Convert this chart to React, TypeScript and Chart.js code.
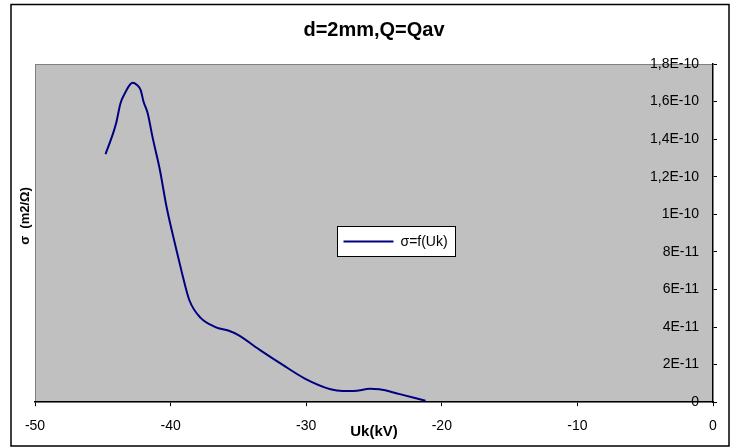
import React, { useEffect, useRef } from "react";
import { Chart, registerables } from "chart.js";

Chart.register(...registerables);

const chartTitle = "d=2mm,Q=Qav";
const xAxisTitle = "Uk(kV)";
const yAxisTitle = "σ  (m2/Ω)";
const seriesLabel = "σ=f(Uk)";

const ukValues = [
  -44.8, -44.2, -44.0, -43.7, -43.4, -43.1, -42.8, -42.5, -42.2, -42.0, -41.7,
  -41.3, -40.8, -40.3, -39.8, -39.4, -39.1, -38.6, -37.8, -36.7, -35.7, -35.0,
  -33.4, -31.7, -30.1, -28.2, -27.3, -26.5, -25.3, -24.6, -23.1, -21.2,
];
const sigmaValues = [
  1.32e-10, 1.44e-10, 1.49e-10, 1.59e-10, 1.64e-10, 1.68e-10, 1.70e-10, 1.69e-10,
  1.66e-10, 1.60e-10, 1.54e-10, 1.40e-10, 1.24e-10, 1.04e-10, 8.8e-11, 7.6e-11,
  6.7e-11, 5.4e-11, 4.5e-11, 4.0e-11, 3.8e-11, 3.57e-11, 2.77e-11, 1.97e-11,
  1.26e-11, 6.9e-12, 6.0e-12, 6.0e-12, 7.1e-12, 6.9e-12, 4.3e-12, 8e-13,
];

const xMin = -50;
const xMax = 0;
const xStep = 10;
const yMin = 0;
const yMax = 1.8e-10;
const yStep = 2e-11;

const FONT = "'Liberation Sans', Arial, sans-serif";
const LINE_COLOR = "#000080";

function formatSci(v: number): string {
  if (Math.abs(v) < 1e-20) return "0";
  const s = v.toExponential(1);
  const [mant, exp] = s.split("e");
  const m = mant.replace(/\.0$/, "").replace(".", ",");
  const e = parseInt(exp, 10);
  return m + "E" + (e < 0 ? "-" + Math.abs(e) : "+" + e);
}

const backgroundPlugin = {
  id: "plotBackground",
  beforeDraw(chart: any) {
    const { ctx, chartArea } = chart;
    const { left, top, right, bottom } = chartArea;
    ctx.save();
    ctx.fillStyle = "#ffffff";
    ctx.fillRect(0, 0, chart.width, chart.height);
    ctx.fillStyle = "#c0c0c0";
    ctx.fillRect(left, top, right - left, bottom - top);
    ctx.strokeStyle = "#808080";
    ctx.lineWidth = 1;
    ctx.strokeRect(left + 0.5, top + 0.5, right - left - 1, bottom - top - 1);
    ctx.strokeStyle = "#000000";
    ctx.lineWidth = 1.5;
    ctx.strokeRect(11, 4.5, 718, 441.5);
    ctx.restore();
  },
  afterDraw(chart: any) {
    const { ctx, chartArea } = chart;
    const { left, top, right, bottom } = chartArea;
    const w = right - left;
    const h = bottom - top;
    ctx.save();
    ctx.translate(25, 216);
    ctx.rotate(-Math.PI / 2);
    ctx.font = `bold 13px ${FONT}`;
    ctx.fillStyle = "#000";
    ctx.textAlign = "center";
    ctx.textBaseline = "middle";
    ctx.fillText(yAxisTitle, 0, 0);
    ctx.restore();

    const ds = chart.data.datasets[0];
    const bx = Math.round(left + 0.445 * w) + 0.5;
    const by = Math.round(top + 0.478 * h) + 0.5;
    const bw = 118;
    const bh = 30;
    ctx.save();
    ctx.fillStyle = "#ffffff";
    ctx.fillRect(bx, by, bw, bh);
    ctx.strokeStyle = "#000000";
    ctx.lineWidth = 1;
    ctx.strokeRect(bx, by, bw, bh);
    ctx.strokeStyle = ds.borderColor;
    ctx.lineWidth = 2;
    ctx.beginPath();
    ctx.moveTo(bx + 6, by + bh / 2);
    ctx.lineTo(bx + 56, by + bh / 2);
    ctx.stroke();
    ctx.fillStyle = "#000";
    ctx.font = `14px ${FONT}`;
    ctx.textAlign = "left";
    ctx.textBaseline = "middle";
    ctx.fillText(ds.label, bx + 63, by + bh / 2 + 1);
    ctx.restore();
  },
};

export default function App() {
  const canvasRef = useRef<HTMLCanvasElement | null>(null);

  useEffect(() => {
    if (!canvasRef.current) return;
    const points = ukValues.map((x, i) => ({ x, y: sigmaValues[i] }));
    const chart = new Chart(canvasRef.current, {
      type: "line",
      data: {
        datasets: [
          {
            label: seriesLabel,
            data: points,
            borderColor: LINE_COLOR,
            backgroundColor: LINE_COLOR,
            borderWidth: 2,
            pointRadius: 0,
            cubicInterpolationMode: "monotone",
            fill: false,
          },
        ],
      },
      options: {
        responsive: false,
        animation: false,
        layout: { padding: { left: 35, right: 28, top: 4, bottom: 7 } },
        plugins: {
          legend: { display: false },
          tooltip: { enabled: false },
          title: {
            display: true,
            text: chartTitle,
            color: "#000",
            font: { family: FONT, size: 20, weight: "bold", lineHeight: 1.2 },
            padding: { top: 14, bottom: 22 },
          },
        },
        scales: {
          x: {
            type: "linear",
            min: xMin,
            max: xMax,
            ticks: {
              stepSize: xStep,
              color: "#000",
              font: { family: FONT, size: 14 },
              padding: 12,
              maxRotation: 0,
            },
            grid: {
              drawOnChartArea: false,
              drawTicks: true,
              tickLength: 4,
              color: "#000",
            },
            border: { display: true, color: "#000", width: 1.5 },
            title: {
              display: true,
              text: xAxisTitle,
              color: "#000",
              font: { family: FONT, size: 15, weight: "bold", lineHeight: 1.2 },
              padding: { top: -24, bottom: 0 },
            },
          },
          y: {
            type: "linear",
            position: "right",
            min: yMin,
            max: yMax,
            ticks: {
              stepSize: yStep,
              mirror: true,
              padding: -14,
              color: "#000",
              font: { family: FONT, size: 14 },
              callback: (v: any) => formatSci(Number(v)),
            },
            grid: {
              drawOnChartArea: false,
              drawTicks: true,
              tickLength: 4,
              color: "#000",
            },
            border: { display: true, color: "#000", width: 1.5 },
          },
        },
      },
      plugins: [backgroundPlugin],
    });
    return () => chart.destroy();
  }, []);

  return (
    <div style={{ position: "absolute", left: 0, top: 0, width: 741, height: 448 }}>
      <canvas ref={canvasRef} width={741} height={448} style={{ display: "block" }} />
    </div>
  );
}
